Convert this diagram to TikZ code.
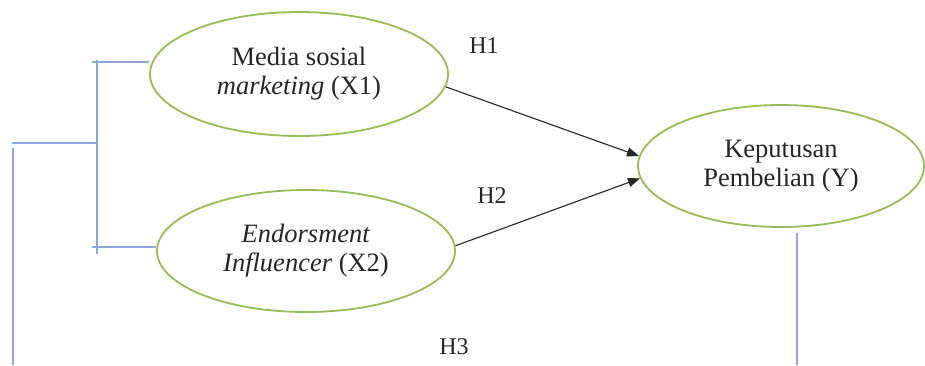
\documentclass[tikz,border=0pt]{standalone}
\usepackage{fontspec}
\setmainfont{Liberation Serif}
\usetikzlibrary{arrows.meta,shapes.geometric}
\definecolor{ellgreen}{HTML}{9BBB59}
\definecolor{lineblue}{HTML}{8FA8D8}
\definecolor{txt}{HTML}{262626}
\begin{document}
\begin{tikzpicture}[x=1pt,y=-1pt,
  construct/.style={ellipse,draw=ellgreen,line width=1.8pt,inner sep=0pt,
    text=txt,align=center,font=\fontsize{26.5}{29}\selectfont},
  hlabel/.style={text=txt,font=\fontsize{24}{28}\selectfont,inner sep=0pt},
  link/.style={draw=lineblue,line width=1.4pt},
  hyparrow/.style={draw=black!85,line width=1.1pt,-{Triangle[length=12pt,width=9pt]}}]
\useasboundingbox[fill=white] (0,0) rectangle (925,365);
\node[construct,minimum width=298pt,minimum height=124pt] (x1) at (299,74)
  {Media sosial\\\textit{marketing} (X1)};
\node[construct,minimum width=298pt,minimum height=122pt] (x2) at (306,251)
  {\textit{Endorsment}\\\textit{Influencer} (X2)};
\node[construct,minimum width=286pt,minimum height=122pt] (y) at (781,166)
  {Keputusan\\Pembelian (Y)};
\node[hlabel] (h1) at (484,46) {H1};
\node[hlabel] (h2) at (492,196) {H2};
\node[hlabel] (h3) at (454,347) {H3};
\draw[hyparrow] (x1.-5) -- (y.176);
\draw[hyparrow] (x2.2) -- (y.185);
% bracket
\coordinate (t1) at (92,62);
\coordinate (t2) at (92,247);
\coordinate (vt) at (97,60);
\coordinate (vb) at (97,254);
\coordinate (m1) at (12,143);
\coordinate (m2) at (97,143);
\coordinate (l1) at (13,148);
\coordinate (l2) at (13,365);
\coordinate (r2) at (797,365);
\draw[link] (t1) -- (x1.west |- t1);
\draw[link] (t2) -- (x2.west |- t2);
\draw[link] (vt) -- (vb);
\draw[link] (m1) -- (m2);
\draw[link] (l1) -- (l2);
\draw[link] ([yshift=-5pt]y.south -| r2) -- (r2);
\end{tikzpicture}
\end{document}
